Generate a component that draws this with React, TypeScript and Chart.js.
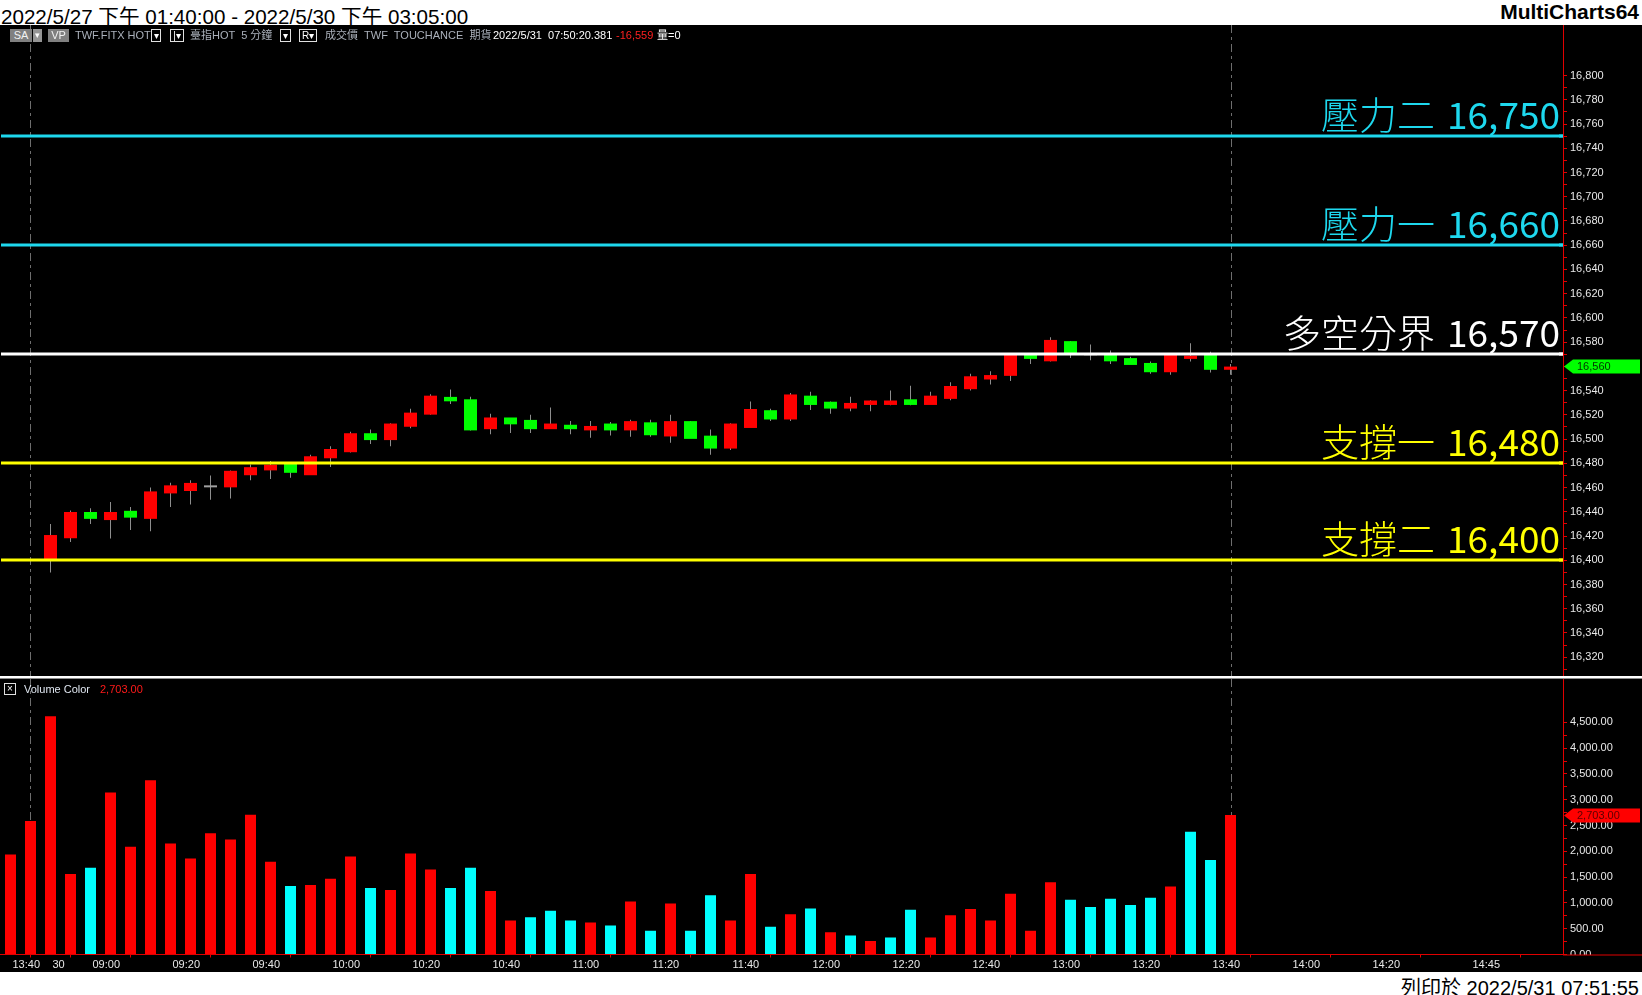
import React, { useEffect, useRef } from 'react';
import { Chart, registerables } from 'chart.js';

Chart.register(...registerables);

// ---------- data (5-minute bars, index 0 = 2022/5/27 13:40) ----------
const opens: (number | null)[] = [
  null, null, 16401, 16419, 16439, 16434, 16440, 16435, 16456, 16458,
  16461, 16461, 16471, 16475, 16479, 16471, 16485, 16490, 16504, 16500,
  16511, 16521, 16534, 16532, 16509, 16517, 16515, 16509, 16511, 16508,
  16512, 16508, 16513, 16503, 16514, 16502, 16493, 16510, 16523, 16517,
  16535, 16530, 16526, 16529, 16529, 16532, 16529, 16534, 16542, 16550,
  16553, 16569, 16565, 16580, 16570, 16569, 16566, 16562, 16556, 16567,
  16569, 16558,
];
const highs: (number | null)[] = [
  null, null, 16430, 16441, 16443, 16448, 16444, 16460, 16464, 16466,
  16470, 16474, 16479, 16482, 16480, 16487, 16494, 16506, 16508, 16513,
  16525, 16537, 16541, 16535, 16521, 16517, 16520, 16526, 16515, 16515,
  16514, 16516, 16516, 16520, 16515, 16508, 16513, 16531, 16525, 16538,
  16539, 16531, 16535, 16532, 16540, 16544, 16539, 16547, 16554, 16556,
  16570, 16571, 16584, 16581, 16578, 16573, 16568, 16564, 16570, 16579,
  16572, 16562,
];
const lows: (number | null)[] = [
  null, null, 16390, 16415, 16430, 16418, 16425, 16424, 16444, 16446,
  16450, 16451, 16466, 16467, 16468, 16471, 16477, 16489, 16496, 16494,
  16509, 16520, 16529, 16507, 16504, 16505, 16505, 16509, 16504, 16501,
  16503, 16502, 16502, 16497, 16501, 16487, 16491, 16510, 16515, 16515,
  16524, 16521, 16523, 16523, 16528, 16528, 16529, 16532, 16540, 16545,
  16548, 16562, 16564, 16567, 16565, 16562, 16562, 16554, 16553, 16564,
  16555, 16553,
];
const closes: (number | null)[] = [
  null, null, 16420, 16439, 16435, 16439, 16436, 16456, 16461, 16463,
  16461, 16473, 16476, 16478, 16473, 16485, 16491, 16504, 16500, 16512,
  16521, 16535, 16532, 16508, 16517, 16513, 16509, 16512, 16509, 16510,
  16508, 16514, 16504, 16514, 16501, 16493, 16512, 16524, 16517, 16536,
  16529, 16526, 16529, 16531, 16531, 16529, 16535, 16543, 16551, 16552,
  16569, 16567, 16581, 16571, 16570, 16565, 16562, 16556, 16569, 16568,
  16558, 16559,
];
const volumes: number[] = [
  1940, 2590, 4620, 1560, 1680, 3140, 2090, 3380, 2150, 1860,
  2350, 2230, 2710, 1800, 1330, 1350, 1470, 1900, 1290, 1250,
  1960, 1650, 1290, 1680, 1230, 660, 720, 850, 660, 620,
  560, 1030, 460, 990, 460, 1150, 660, 1560, 540, 780,
  890, 430, 370, 260, 330, 870, 330, 760, 880, 660,
  1180, 460, 1400, 1060, 920, 1080, 960, 1100, 1320, 2380,
  1830, 2703,
];
// 1 = up colour (red), 0 = down colour (cyan)
const volumeUp: number[] = [
  1, 1, 1, 1, 0, 1, 1, 1, 1, 1,
  1, 1, 1, 1, 0, 1, 1, 1, 0, 1,
  1, 1, 0, 0, 1, 1, 0, 0, 0, 1,
  0, 1, 0, 1, 0, 0, 1, 1, 0, 1,
  0, 1, 0, 1, 0, 0, 1, 1, 1, 1,
  1, 1, 1, 0, 0, 0, 0, 0, 1, 0,
  0, 1,
];

const xTickIndex = [0, 2, 4, 8, 12, 16, 20, 24, 28, 32, 36, 40, 44, 48, 52, 56, 60, 64, 68, 73];
const xTickLabels = ['13:40', '30', '09:00', '09:20', '09:40', '10:00', '10:20', '10:40', '11:00', '11:20',
  '11:40', '12:00', '12:20', '12:40', '13:00', '13:20', '13:40', '14:00', '14:20', '14:45'];

const levelValues = [16750, 16660, 16570, 16480, 16400];
const levelNames = ['壓力二', '壓力一', '多空分界', '支撐一', '支撐二'];
const levelColors = ['#1ed8ee', '#1ed8ee', '#ffffff', '#ffff00', '#ffff00'];

const sessionEndIndex = [1, 61];
const lastPrice = 16560;
const lastVolume = 2703;

// axis ranges / tick spacing
const X_MIN = -0.525;
const X_MAX = 77.625;
const PRICE_MIN = 16304.5;
const PRICE_MAX = 16841.7;
const PRICE_TICK_START = 16310;
const PRICE_TICK_END = 16800;
const PRICE_TICK_STEP = 10;
const PRICE_LABEL_STEP = 20;
const VOL_MIN = 0;
const VOL_MAX = 5342;
const VOL_TICK_END = 4500;
const VOL_TICK_STEP = 250;
const VOL_LABEL_STEP = 500;

// ---------- styles ----------
const RED = '#ff0000';
const GREEN = '#00ff00';
const CYAN = '#00ffff';
const WICK = '#8e8e8e';
const DOJI = '#a0a0a0';
const AXIS_RED = '#e00000';
const TICK_TEXT = '#e8e8e8';
const AXIS_FONT = { family: '"Liberation Sans", Arial, sans-serif', size: 11 };
const AXIS_W = 79;

const fmt = (v: number) => v.toLocaleString('en-US');
const fmt2 = (v: number) => v.toLocaleString('en-US', { minimumFractionDigits: 2, maximumFractionDigits: 2 });

function range(a: number, b: number, s: number) {
  const out: number[] = [];
  for (let v = a; v <= b + 1e-9; v += s) out.push(v);
  return out;
}

function drawSessionLines(chart: any) {
  const { ctx, chartArea } = chart;
  const xs = chart.scales.x;
  ctx.save();
  ctx.strokeStyle = '#6e6e6e';
  ctx.lineWidth = 1;
  ctx.setLineDash([8, 4, 3, 4]);
  sessionEndIndex.forEach((i) => {
    const x = Math.round(xs.getPixelForValue(i)) + 0.5;
    ctx.beginPath();
    ctx.moveTo(x, chartArea.top);
    ctx.lineTo(x, chartArea.bottom);
    ctx.stroke();
  });
  ctx.restore();
}

function drawMarker(ctx: any, xLeft: number, xRight: number, y: number, fill: string, text: string, textColor: string) {
  ctx.save();
  ctx.fillStyle = fill;
  ctx.beginPath();
  ctx.moveTo(xLeft, y);
  ctx.lineTo(xLeft + 9, y - 7);
  ctx.lineTo(xRight, y - 7);
  ctx.lineTo(xRight, y + 7);
  ctx.lineTo(xLeft + 9, y + 7);
  ctx.closePath();
  ctx.fill();
  ctx.fillStyle = textColor;
  ctx.font = '11px "Liberation Sans", Arial, sans-serif';
  ctx.textAlign = 'left';
  ctx.textBaseline = 'middle';
  ctx.fillText(text, xLeft + 13, y + 0.5);
  ctx.restore();
}

const pricePlugin = {
  id: 'priceDecor',
  beforeDatasetsDraw(chart: any) {
    drawSessionLines(chart);
  },
  afterDatasetsDraw(chart: any) {
    const { ctx, chartArea } = chart;
    const ys = chart.scales.y;
    ctx.save();
    levelValues.forEach((v, k) => {
      const y = Math.round(ys.getPixelForValue(v));
      ctx.fillStyle = levelColors[k];
      ctx.fillRect(chartArea.left + 1, y - 1.5, chartArea.right - chartArea.left - 1, 3);
      // axis marker
      ctx.fillRect(chartArea.right - 4, y - 1.5, 4, 3);
      // label
      const num = fmt(v);
      ctx.textAlign = 'right';
      ctx.textBaseline = 'alphabetic';
      ctx.font = '400 37px "Noto Sans CJK TC", sans-serif';
      const xr = chartArea.right - 3;
      ctx.fillText(num, xr, y - 7);
      const w = ctx.measureText(num).width;
      ctx.font = '300 38px "Noto Sans CJK TC", sans-serif';
      ctx.fillText(levelNames[k], xr - w - 12, y - 7);
    });
    ctx.restore();
  },
  afterDraw(chart: any) {
    const { ctx, chartArea, width } = chart;
    const y = chart.scales.y.getPixelForValue(lastPrice);
    drawMarker(ctx, chartArea.right + 1, width - 2, Math.round(y) + 0.5, GREEN, fmt(lastPrice), '#003300');
  },
};

const volPlugin = {
  id: 'volDecor',
  beforeDatasetsDraw(chart: any) {
    drawSessionLines(chart);
  },
  afterDraw(chart: any) {
    const { ctx, chartArea, width, height } = chart;
    ctx.save();
    ctx.fillStyle = '#000000';
    ctx.fillRect(chartArea.right + 1, chartArea.bottom + 0.5, width - chartArea.right, height - chartArea.bottom);
    ctx.fillStyle = AXIS_RED;
    ctx.fillRect(chartArea.right, Math.round(chartArea.bottom) - 0.5, width - chartArea.right, 1);
    ctx.restore();
    const y = chart.scales.y.getPixelForValue(lastVolume);
    drawMarker(ctx, chartArea.right + 1, width - 2, Math.round(y) + 0.5, RED, fmt2(lastVolume), '#5a0000');
  },
};

function yAxis(min: number, max: number, ticks: number[], labelStep: number, fmtFn: (v: number) => string) {
  return {
    type: 'linear',
    position: 'right',
    min,
    max,
    grid: { drawOnChartArea: false, drawTicks: true, tickLength: 4, color: AXIS_RED, tickColor: AXIS_RED },
    border: { display: true, color: AXIS_RED, width: 1 },
    ticks: {
      color: TICK_TEXT,
      font: AXIS_FONT,
      padding: 3,
      autoSkip: false,
      callback: (v: number) => (Math.abs(v % labelStep) < 1e-6 ? fmtFn(v) : ''),
    },
    afterBuildTicks: (s: any) => {
      s.ticks = ticks.map((v) => ({ value: v }));
    },
    afterFit: (s: any) => {
      s.width = AXIS_W;
      s.paddingTop = 0;
      s.paddingBottom = 0;
    },
  };
}

export default function App() {
  const priceRef = useRef<HTMLCanvasElement>(null);
  const volRef = useRef<HTMLCanvasElement>(null);

  useEffect(() => {
    const bodies: any[] = [];
    const wicks: any[] = [];
    const bodyColors: string[] = [];
    closes.forEach((c, i) => {
      const o = opens[i];
      if (c == null || o == null) return;
      bodies.push({ x: i, y: [o, c] });
      wicks.push({ x: i, y: [lows[i], highs[i]] });
      bodyColors.push(c > o ? RED : c < o ? GREEN : DOJI);
    });
    const vols = volumes.map((v, i) => ({ x: i, y: v }));
    const volColors = volumeUp.map((u) => (u ? RED : CYAN));

    const priceTicks = range(PRICE_TICK_START, PRICE_TICK_END, PRICE_TICK_STEP);
    const volTicks = range(VOL_MIN, VOL_TICK_END, VOL_TICK_STEP);

    const price = new Chart(priceRef.current as HTMLCanvasElement, {
      type: 'bar',
      data: {
        datasets: [
          { data: bodies, backgroundColor: bodyColors, barThickness: 11, inflateAmount: 1, grouped: false, borderWidth: 0 } as any,
          { data: wicks, backgroundColor: WICK, barThickness: 1, inflateAmount: 0, grouped: false, borderWidth: 0 } as any,
        ],
      },
      options: {
        animation: false,
        responsive: false,
        devicePixelRatio: 1,
        events: [],
        layout: { padding: 0 },
        plugins: { legend: { display: false }, tooltip: { enabled: false }, title: { display: false } },
        scales: {
          x: { type: 'linear', min: X_MIN, max: X_MAX, display: false, offset: false } as any,
          y: yAxis(PRICE_MIN, PRICE_MAX, priceTicks, PRICE_LABEL_STEP, fmt) as any,
        },
      },
      plugins: [pricePlugin],
    });

    const vol = new Chart(volRef.current as HTMLCanvasElement, {
      type: 'bar',
      data: {
        datasets: [
          { data: vols, backgroundColor: volColors, barThickness: 11, inflateAmount: 0, grouped: false, borderWidth: 0 } as any,
        ],
      },
      options: {
        animation: false,
        responsive: false,
        devicePixelRatio: 1,
        events: [],
        layout: { padding: 0 },
        plugins: { legend: { display: false }, tooltip: { enabled: false }, title: { display: false } },
        scales: {
          x: {
            type: 'linear',
            min: X_MIN,
            max: X_MAX,
            offset: false,
            grid: { drawOnChartArea: false, drawTicks: true, tickLength: 3, color: AXIS_RED, tickColor: AXIS_RED },
            border: { display: true, color: AXIS_RED, width: 1 },
            ticks: {
              color: TICK_TEXT,
              font: AXIS_FONT,
              padding: 1,
              autoSkip: false,
              maxRotation: 0,
              minRotation: 0,
              align: 'start',
              labelOffset: 2,
              callback: (v: number) => {
                const k = xTickIndex.indexOf(v);
                return k >= 0 ? xTickLabels[k] : '';
              },
            },
            afterBuildTicks: (s: any) => {
              s.ticks = xTickIndex.map((v) => ({ value: v }));
            },
            afterFit: (s: any) => {
              s.height = 17.5;
              s.paddingLeft = 0;
              s.paddingRight = 0;
            },
          } as any,
          y: yAxis(VOL_MIN, VOL_MAX, volTicks, VOL_LABEL_STEP, fmt2) as any,
        },
      },
      plugins: [volPlugin],
    });

    return () => {
      price.destroy();
      vol.destroy();
    };
  }, []);

  const uiFont = '11px "Liberation Sans", "Noto Sans CJK TC", Arial, sans-serif';
  const abs = (left: number, top: number, extra: React.CSSProperties = {}): React.CSSProperties => ({
    position: 'absolute',
    left,
    top,
    font: uiFont,
    lineHeight: '13px',
    height: 13,
    whiteSpace: 'pre',
    ...extra,
  });
  const gray = '#aab0ba';
  const boxStyle = (left: number, width: number): React.CSSProperties =>
    abs(left, 29, {
      width: width - 2,
      height: 11,
      lineHeight: '11px',
      border: '1px solid #e0e0e0',
      color: '#ffffff',
      textAlign: 'center',
      fontSize: 10,
      boxSizing: 'content-box',
    });

  return (
    <div style={{ position: 'fixed', left: 0, top: 0, width: 1642, height: 995, background: '#ffffff', overflow: 'hidden' }}>
      {/* title bar */}
      <div style={{ position: 'absolute', left: 1, top: 0, height: 25, lineHeight: '25px', font: '20.6px "Liberation Sans", "Noto Sans CJK TC", Arial, sans-serif', color: '#000', whiteSpace: 'pre' }}>
        2022/5/27 下午 01:40:00 - 2022/5/30 下午 03:05:00
      </div>
      <div style={{ position: 'absolute', right: 3, top: 0, height: 25, lineHeight: '25px', font: 'bold 21px "Liberation Sans", Arial, sans-serif', color: '#000' }}>
        MultiCharts64
      </div>

      {/* black chart area */}
      <div style={{ position: 'absolute', left: 0, top: 25, width: 1642, height: 947, background: '#000000' }} />
      <canvas ref={priceRef} width={1642} height={651} style={{ position: 'absolute', left: 0, top: 25, display: 'block' }} />
      <div style={{ position: 'absolute', left: 0, top: 676, width: 1642, height: 2, background: '#ffffff' }} />
      <div style={{ position: 'absolute', left: 0, top: 678, width: 1642, height: 1, background: '#8c8c8c' }} />
      <canvas ref={volRef} width={1642} height={293} style={{ position: 'absolute', left: 0, top: 679, display: 'block' }} />

      {/* price panel header */}
      <span style={abs(10, 29, { width: 22, background: '#808080', color: '#f2f2f2', textAlign: 'center' })}>SA</span>
      <span style={abs(33, 29, { width: 9, background: '#959595', color: '#ffffff', textAlign: 'center', fontSize: 9 })}>▾</span>
      <span style={abs(48, 29, { width: 21, background: '#808080', color: '#f2f2f2', textAlign: 'center' })}>VP</span>
      <span style={abs(75, 29, { color: gray })}>TWF.FITX HOT</span>
      <span style={boxStyle(151, 10)}>▾</span>
      <span style={boxStyle(170, 14)}>|▾</span>
      <span style={abs(190, 29, { color: gray })}>臺指HOT  5 分鐘</span>
      <span style={boxStyle(280, 11)}>▾</span>
      <span style={boxStyle(299, 18)}>R▾</span>
      <span style={abs(325, 29, { color: gray })}>成交價  TWF  TOUCHANCE  期貨</span>
      <span style={abs(493, 29, { color: '#ffffff' })}>2022/5/31  07:50:20.381</span>
      <span style={abs(616, 29, { color: '#ff2020' })}>-16,559</span>
      <span style={abs(657, 29, { color: '#ffffff' })}>量=0</span>

      {/* volume panel header */}
      <span style={abs(4, 683, { width: 10, height: 10, lineHeight: '10px', border: '1px solid #e0e0e0', color: '#ffffff', textAlign: 'center', fontSize: 10, boxSizing: 'content-box' })}>×</span>
      <span style={abs(24, 683, { color: '#dfe6f0' })}>Volume Color</span>
      <span style={abs(100, 683, { color: '#ff1a1a' })}>2,703.00</span>

      {/* footer */}
      <div style={{ position: 'absolute', right: 3, top: 972, height: 23, lineHeight: '23px', font: '20px "Liberation Sans", "Noto Sans CJK TC", Arial, sans-serif', color: '#000', whiteSpace: 'pre' }}>
        列印於 2022/5/31 07:51:55
      </div>
    </div>
  );
}
